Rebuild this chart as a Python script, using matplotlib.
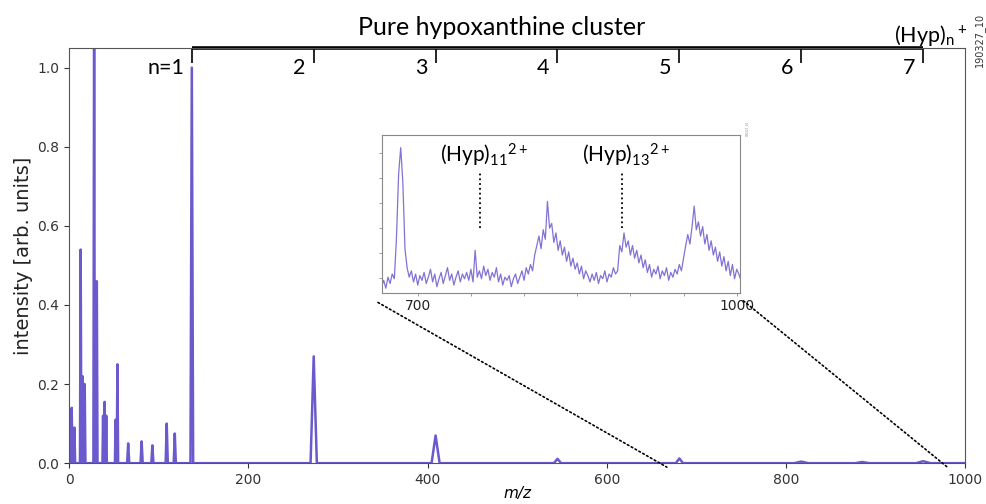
import matplotlib
matplotlib.use("Agg")
import matplotlib.pyplot as plt
from matplotlib.patches import ConnectionPatch
import numpy as np

plt.rcParams['mathtext.default'] = 'regular'

# main spectrum peaks: centre m/z, height, half width
peak_mz = [3, 6, 13, 15, 17.5, 28, 31, 38, 39.7, 41.5, 52, 54,
           66, 81, 93, 109, 118, 137, 273, 409, 545, 681, 817, 885, 953]
peak_int = [0.14, 0.09, 0.54, 0.22, 0.20, 1.15, 0.46, 0.12, 0.155, 0.12, 0.11, 0.25,
            0.05, 0.055, 0.045, 0.10, 0.075, 1.0, 0.27, 0.07, 0.011, 0.012, 0.004, 0.003, 0.005]
peak_hw = [0.8, 0.8, 0.8, 0.8, 0.8, 0.8, 0.8, 0.7, 0.7, 0.7, 0.8, 0.8,
           1.2, 1.2, 1.2, 1.2, 1.2, 1.5, 3.5, 4.5, 4, 4, 8, 8, 8]

# cluster series (Hyp)n+
cluster_n = [1, 2, 3, 4, 5, 6, 7]
cluster_mz = [137, 273, 409, 545, 681, 817, 953]

# zoomed region 666-1004, step 2
inset_mz = np.arange(666, 1005, 2)
inset_int = [
    0.04, 0.08, 0.03, 0.10, 0.06, 0.12, 0.09, 0.35, 0.75, 0.92,
    0.70, 0.28, 0.16, 0.10, 0.14, 0.07, 0.12, 0.05, 0.11, 0.08,
    0.13, 0.06, 0.10, 0.15, 0.07, 0.12, 0.04, 0.09, 0.13, 0.06,
    0.11, 0.16, 0.08, 0.12, 0.05, 0.10, 0.14, 0.07, 0.12, 0.09,
    0.13, 0.08, 0.15, 0.07, 0.27, 0.10, 0.14, 0.09, 0.17, 0.11,
    0.15, 0.08, 0.13, 0.10, 0.16, 0.07, 0.12, 0.05, 0.10, 0.08,
    0.11, 0.04, 0.09, 0.12, 0.06, 0.10, 0.14, 0.08, 0.16, 0.12,
    0.18, 0.14, 0.24, 0.30, 0.36, 0.28, 0.40, 0.34, 0.58, 0.41,
    0.44, 0.32, 0.38, 0.27, 0.33, 0.24, 0.29, 0.20, 0.26, 0.17,
    0.22, 0.15, 0.19, 0.12, 0.17, 0.09, 0.14, 0.11, 0.07, 0.12,
    0.08, 0.13, 0.06, 0.11, 0.09, 0.14, 0.07, 0.12, 0.10, 0.16,
    0.12, 0.14, 0.30, 0.26, 0.38, 0.29, 0.33, 0.24, 0.30, 0.22,
    0.27, 0.19, 0.24, 0.16, 0.21, 0.13, 0.18, 0.10, 0.15, 0.12,
    0.17, 0.09, 0.14, 0.11, 0.16, 0.08, 0.13, 0.10, 0.15, 0.12,
    0.18, 0.14, 0.22, 0.30, 0.37, 0.31, 0.42, 0.55, 0.40, 0.45,
    0.36, 0.42, 0.31, 0.37, 0.27, 0.33, 0.24, 0.29, 0.20, 0.26,
    0.17, 0.23, 0.14, 0.20, 0.11, 0.18, 0.09, 0.15, 0.12, 0.08,
]
doubly_mz = [759, 892]
doubly_lbl = [r'(Hyp)$_{11}{}^{2+}$', r'(Hyp)$_{13}{}^{2+}$']

col = '#6a5acd'

# build stick/triangle spectrum
xs = [0.0]
ys = [0.0]
for c, h, w in sorted(zip(peak_mz, peak_int, peak_hw)):
    xs += [c - w, c, c + w]
    ys += [0.0, h, 0.0]
xs.append(1000.0)
ys.append(0.0)

fig = plt.figure(figsize=(9.86, 5.04), dpi=100)
ax = fig.add_axes([0.070, 0.081, 0.909, 0.824])
ax.plot(xs, ys, color=col, lw=1.8)
ax.set_xlim(0, 1000)
ax.set_ylim(0, 1.05)
ax.set_yticks([0, 0.2, 0.4, 0.6, 0.8, 1.0])
ax.set_ylabel('intensity [arb. units]', fontsize=14, color='#222222', labelpad=3)
ax.set_xlabel('m/z', fontsize=11, style='italic', labelpad=-1)
ax.tick_params(labelsize=10, colors='#333333')
for s in ax.spines.values():
    s.set_color('#555555')
    s.set_linewidth(0.8)

# cluster bracket on top
ax.plot([cluster_mz[0], cluster_mz[-1]], [1.05, 1.05], color='k', lw=2.6,
        clip_on=False, solid_capstyle='butt')
ax.vlines(cluster_mz, 1.013, 1.05, color='k', lw=1.2, clip_on=False)
for n, m in zip(cluster_n, cluster_mz):
    if n == 1:
        ax.text(m - 8, 1.0, 'n=1', ha='right', va='center', fontsize=15.5, family='Lato')
    else:
        ax.text(m - 16, 1.0, str(n), ha='center', va='center', fontsize=15.5, family='Lato')

fig.text(0.509, 0.946, 'Pure hypoxanthine cluster', ha='center', va='center',
         fontsize=18, family='Lato')
fig.text(0.981, 0.905, r'(Hyp)$_n{}^+$', ha='right', va='bottom', fontsize=15.5, family='Lato')
fig.text(0.993, 0.92, '190327_10', rotation=90, ha='center', va='center', fontsize=7,
         color='#333333')

# inset
axi = fig.add_axes([0.387, 0.4187, 0.3634, 0.3135])
axi.plot(inset_mz, inset_int, color=col, lw=0.9, alpha=0.85)
axi.set_xlim(666, 1003)
axi.set_ylim(0, 1)
axi.set_xticks(np.arange(700, 1001, 50))
axi.set_xticklabels(['700', '', '', '', '', '', '1000'])
axi.set_yticks([0.095, 0.253, 0.411, 0.57, 0.728, 0.886])
axi.set_yticklabels([])
axi.tick_params(labelsize=10, length=2, width=0.5, pad=2, colors='#777777', labelcolor='#222222')
for s in axi.spines.values():
    s.set_color('#888888')
    s.set_linewidth(0.8)
for m, lbl in zip(doubly_mz, doubly_lbl):
    axi.vlines(m, 0.41, 0.77, color='k', lw=1.3, linestyles=':')
    axi.text(m + 4, 0.87, lbl, ha='center', va='center', fontsize=15, family='Lato')
fig.text(0.758, 0.745, '190327_10', rotation=90, ha='center', va='center', fontsize=2,
         color='#888888')

for a_pt, b_mz in [((-0.01, -0.06), 667), ((1.01, -0.05), 980)]:
    con = ConnectionPatch(xyA=a_pt, coordsA=axi.transAxes, xyB=(b_mz, -0.01),
                          coordsB=ax.transData, color='k', lw=1.2, linestyle=':')
    fig.add_artist(con)

fig.savefig('out.png', dpi=100)
